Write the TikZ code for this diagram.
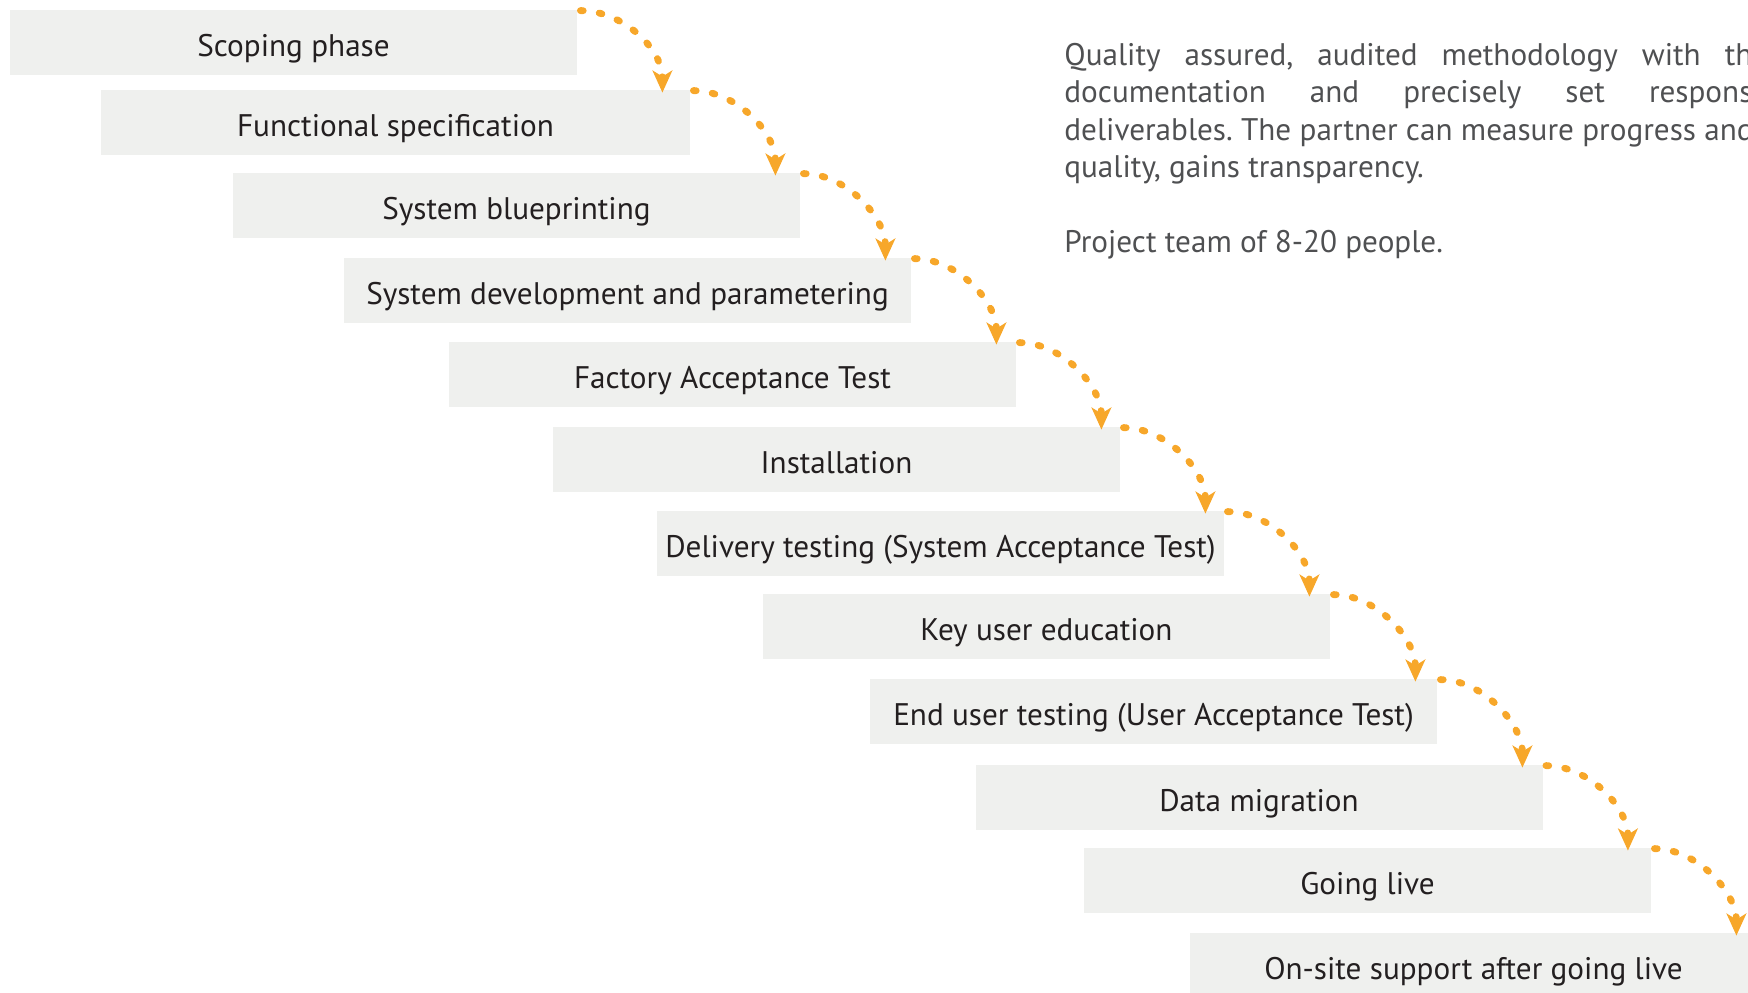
\documentclass[tikz,border=0pt]{standalone}
\usepackage{fontspec}
\setmainfont{PT Sans}
\usetikzlibrary{arrows.meta,calc}
\definecolor{boxfill}{HTML}{EFF0EE}
\definecolor{lbl}{HTML}{231F20}
\definecolor{parac}{HTML}{4F5052}
\definecolor{arrowc}{HTML}{F7A72A}
\frenchspacing
\begin{document}
\begin{tikzpicture}[x=0.5pt,y=-0.5pt,
  stage/.style={fill=boxfill, draw=none, text=lbl, font=\fontsize{15.6}{18}\selectfont,
    inner sep=0pt, minimum width=283.5pt, minimum height=32.5pt, text height=13.5pt, text depth=0pt},
  flow/.style={draw=arrowc, line width=3.4pt, line cap=round, dash pattern=on 1.4pt off 8.1pt,
    -{Stealth[length=11pt,width=9.8pt,inset=3pt]}},
  para/.style={text=parac, font=\fontsize{15.6}{18}\selectfont, anchor=base west, inner sep=0pt}]
\useasboundingbox (0,0) rectangle (1748,992);
\clip (0,0) rectangle (1748,992);
\node[stage] (b1) at (293.5,42.5) {Scoping phase};
\node[stage, minimum width=294.5pt] (b2) at (395.5,122.5) {Functional specification};
\node[stage] (b3) at (516.5,205.5) {System blueprinting};
\node[stage] (b4) at (627.5,290.5) {System development and parametering};
\node[stage] (b5) at (732.5,374.5) {Factory Acceptance Test};
\node[stage] (b6) at (836.5,459.5) {Installation};
\node[stage] (b7) at (940.5,543.5) {Delivery testing (System Acceptance Test)};
\node[stage] (b8) at (1046.5,626.5) {Key user education};
\node[stage] (b9) at (1153.5,711.5) {End user testing (User Acceptance Test)};
\node[stage] (b10) at (1259,797.5) {Data migration};
\node[stage] (b11) at (1367.5,880.5) {Going live};
\node[stage] (b12) at (1473.5,965.5) {On-site support after going live};
\foreach \i [evaluate=\i as \j using int(\i+1)] in {1,...,11}{
  \draw[flow] ($(b\i.north east)+(3,1)$) .. controls +(42,0) and +(0,-44) .. ($(b\i.north east |- b\j.north)+(85,3)$);
}
\node[para] (p1) at (1064,65) {\makebox[344pt][s]{Quality assured, audited methodology with th}};
\node[para] (p2) at (1064,102.5) {\makebox[344pt][s]{documentation and precisely set respons}};
\node[para] (p3) at (1064,140) {deliverables. The partner can measure progress and};
\node[para] (p4) at (1064,177.5) {quality, gains transparency.};
\node[para] (p5) at (1064,252.5) {Project team of 8-20 people.};
\end{tikzpicture}
\end{document}
